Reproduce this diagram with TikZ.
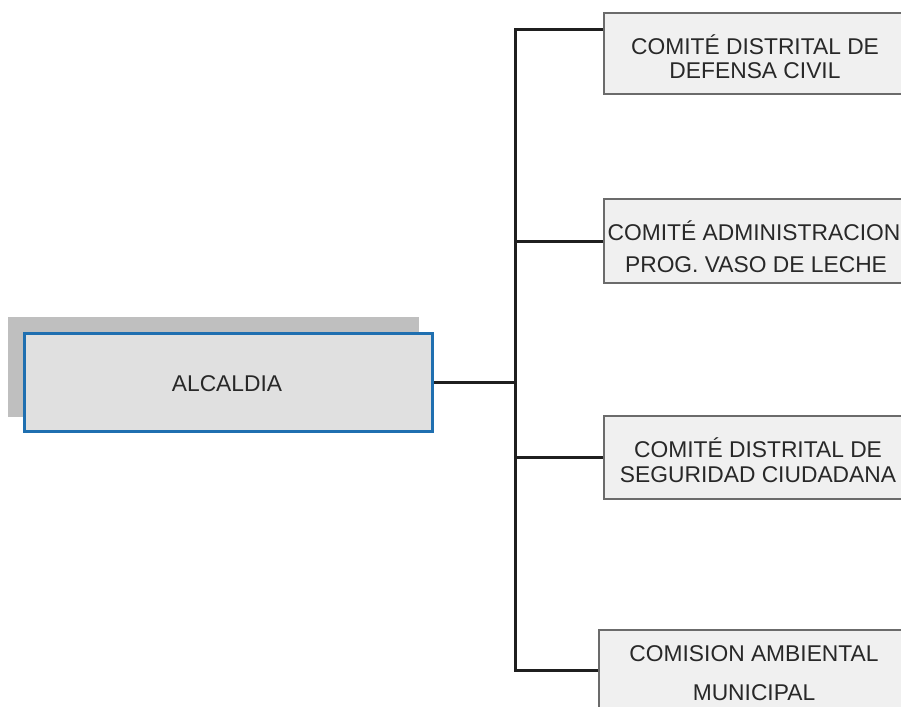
\documentclass[tikz,border=0pt]{standalone}
\usepackage{fontspec}
\setmainfont{Liberation Sans}
\definecolor{alcblue}{RGB}{31,111,176}
\definecolor{txtgray}{RGB}{40,40,40}
\begin{document}
\begin{tikzpicture}[x=1pt,y=-1pt,
  lbl/.style={anchor=base,inner sep=0pt,text=txtgray,font=\fontsize{22.8}{25}\selectfont},
  orgbox/.style={draw=black!58,line width=2.2pt,fill=black!6,anchor=north west,inner sep=0pt,minimum width=306pt},
  conn/.style={draw=black!88,line width=3pt,line join=miter}]
\clip (0,0) rectangle (901,706);
\fill[white] (0,0) rectangle (901,706);
% ALCALDIA
\fill[black!25] (8,317) rectangle (419,417);
\node[draw=alcblue,line width=3.2pt,fill=black!12,anchor=north west,inner sep=0pt,minimum width=408pt,minimum height=98pt] (alc) at (23,332) {};
\node[lbl] (alct) at (227,391) {ALCALDIA};
% boxes
\node[orgbox,minimum height=81pt] (b1) at (603,12) {};
\node[orgbox,minimum height=84pt] (b2) at (603,198) {};
\node[orgbox,minimum height=83pt] (b3) at (603,415) {};
\node[orgbox,minimum height=100pt] (b4) at (598,629) {};
\node[lbl] (b1a) at (755,55) {COMITÉ DISTRITAL DE};
\node[lbl] (b1b) at (755,79) {DEFENSA CIVIL};
\node[lbl] (b2a) at (754,240) {COMITÉ ADMINISTRACION};
\node[lbl] (b2b) at (756,272) {PROG. VASO DE LECHE};
\node[lbl] (b3a) at (758,457) {COMITÉ DISTRITAL DE};
\node[lbl] (b3b) at (758,482) {SEGURIDAD CIUDADANA};
\node[lbl] (b4a) at (754,661) {COMISION AMBIENTAL};
\node[lbl] (b4b) at (754,700) {MUNICIPAL};
% connectors
\coordinate (j1) at (515,30);
\coordinate (j4) at (515,670);
\draw[conn] (b1.west |- j1) -- (j1) -- (j4) -- (b4.west |- j4);
\draw[conn] (alc.east) -- (alc.east -| j1);
\draw[conn] (b2.west) -- (b2.west -| j1);
\draw[conn] (b3.west) -- (b3.west -| j1);
\end{tikzpicture}
\end{document}
